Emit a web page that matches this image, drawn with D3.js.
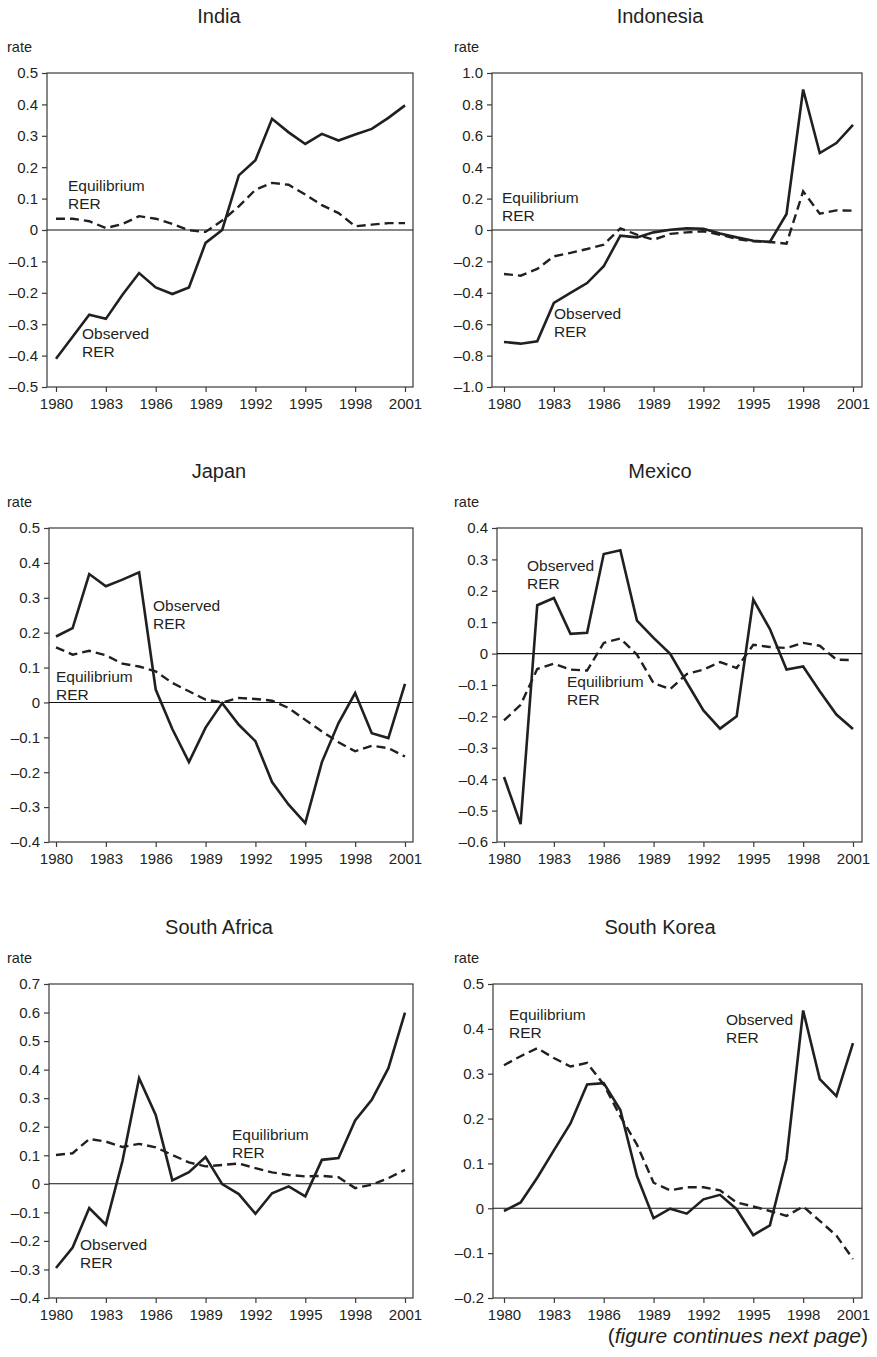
<!DOCTYPE html>
<html>
<head>
<meta charset="utf-8">
<script src="https://cdn.jsdelivr.net/npm/d3@7"></script>
<style>
body { margin: 0; background: #fff; }
text { font-family: "Liberation Sans", Arial, sans-serif; fill: #231f20; }
</style>
</head>
<body>
<svg id="chart" width="877" height="1357"></svg>
<script>
var width = 877;
var height = 1357;

// years on the x axis, and the ones that get a tick
var years = [1980, 1981, 1982, 1983, 1984, 1985, 1986, 1987, 1988, 1989, 1990,
             1991, 1992, 1993, 1994, 1995, 1996, 1997, 1998, 1999, 2000, 2001];
var xTickYears = [1980, 1983, 1986, 1989, 1992, 1995, 1998, 2001];

// observed RER (solid) and equilibrium RER (dashed)
var indiaObserved = [-0.41, -0.34, -0.27, -0.283, -0.206, -0.137, -0.183, -0.204, -0.183, -0.041, 0.0,
                     0.174, 0.222, 0.354, 0.311, 0.274, 0.306, 0.285, 0.304, 0.322, 0.357, 0.397];
var indiaEquilibrium = [0.036, 0.036, 0.028, 0.006, 0.019, 0.044, 0.036, 0.019, -0.001, -0.006, 0.03,
                        0.075, 0.128, 0.15, 0.144, 0.113, 0.079, 0.054, 0.012, 0.017, 0.022, 0.022];

var indonesiaObserved = [-0.713, -0.724, -0.709, -0.465, -0.401, -0.338, -0.231, -0.036, -0.047, -0.015, 0.002,
                         0.011, 0.008, -0.023, -0.047, -0.068, -0.076, 0.102, 0.895, 0.49, 0.554, 0.669];
var indonesiaEquilibrium = [-0.28, -0.291, -0.248, -0.168, -0.146, -0.121, -0.093, 0.01, -0.03, -0.062, -0.025,
                            -0.015, -0.008, -0.03, -0.057, -0.072, -0.076, -0.087, 0.246, 0.104, 0.125, 0.123];

var japanObserved = [0.189, 0.213, 0.368, 0.333, 0.352, 0.373, 0.037, -0.076, -0.171, -0.072, -0.002,
                     -0.064, -0.111, -0.228, -0.293, -0.346, -0.171, -0.059, 0.027, -0.088, -0.102, 0.053];
var japanEquilibrium = [0.158, 0.137, 0.148, 0.135, 0.111, 0.103, 0.089, 0.056, 0.032, 0.008, 0.0,
                        0.013, 0.01, 0.005, -0.016, -0.05, -0.083, -0.114, -0.14, -0.124, -0.131, -0.155];

var mexicoObserved = [-0.393, -0.543, 0.154, 0.177, 0.063, 0.066, 0.317, 0.329, 0.105, 0.05, -0.001,
                      -0.092, -0.181, -0.239, -0.2, 0.172, 0.078, -0.051, -0.041, -0.12, -0.194, -0.24];
var mexicoEquilibrium = [-0.213, -0.163, -0.049, -0.032, -0.051, -0.054, 0.034, 0.048, -0.003, -0.094, -0.113,
                         -0.065, -0.051, -0.027, -0.046, 0.028, 0.021, 0.018, 0.034, 0.025, -0.019, -0.021];

var southAfricaObserved = [-0.295, -0.223, -0.085, -0.143, 0.08, 0.37, 0.241, 0.012, 0.041, 0.094, -0.001,
                           -0.036, -0.105, -0.033, -0.009, -0.044, 0.084, 0.09, 0.222, 0.294, 0.405, 0.6];
var southAfricaEquilibrium = [0.101, 0.107, 0.157, 0.148, 0.129, 0.14, 0.128, 0.101, 0.075, 0.061, 0.066,
                              0.071, 0.055, 0.04, 0.031, 0.026, 0.028, 0.023, -0.015, -0.003, 0.02, 0.049];

var southKoreaObserved = [-0.006, 0.013, 0.068, 0.129, 0.189, 0.276, 0.279, 0.219, 0.072, -0.022, -0.001,
                          -0.012, 0.02, 0.03, -0.002, -0.06, -0.038, 0.11, 0.441, 0.288, 0.25, 0.368];
var southKoreaEquilibrium = [0.319, 0.339, 0.357, 0.335, 0.316, 0.324, 0.276, 0.205, 0.142, 0.057, 0.04,
                             0.047, 0.047, 0.04, 0.013, 0.004, -0.006, -0.017, 0.004, -0.028, -0.061, -0.113];

// y tick values per panel
var indiaTicks = [-0.5, -0.4, -0.3, -0.2, -0.1, 0, 0.1, 0.2, 0.3, 0.4, 0.5];
var indonesiaTicks = [-1.0, -0.8, -0.6, -0.4, -0.2, 0, 0.2, 0.4, 0.6, 0.8, 1.0];
var japanTicks = [-0.4, -0.3, -0.2, -0.1, 0, 0.1, 0.2, 0.3, 0.4, 0.5];
var mexicoTicks = [-0.6, -0.5, -0.4, -0.3, -0.2, -0.1, 0, 0.1, 0.2, 0.3, 0.4];
var southAfricaTicks = [-0.4, -0.3, -0.2, -0.1, 0, 0.1, 0.2, 0.3, 0.4, 0.5, 0.6, 0.7];
var southKoreaTicks = [-0.2, -0.1, 0, 0.1, 0.2, 0.3, 0.4, 0.5];

var countries = ["India", "Indonesia", "Japan", "Mexico", "South Africa", "South Korea"];

// layout of the 2 x 3 grid
var columns = [
  {right: 413, x0: 56, x1: 405, title: 219, rate: 7},
  {right: 862, x0: 504, x1: 853, title: 660, rate: 454}
];
var rowTops = [73, 528, 984];
var plotH = 314;

var panels = [
  {name: countries[0], obs: indiaObserved, eq: indiaEquilibrium, ticks: indiaTicks, col: 0, row: 0, left: 47,
   notes: [{t: ["Equilibrium", "RER"], x: 68, y: 191}, {t: ["Observed", "RER"], x: 82, y: 339}]},
  {name: countries[1], obs: indonesiaObserved, eq: indonesiaEquilibrium, ticks: indonesiaTicks, col: 1, row: 0, left: 492,
   notes: [{t: ["Equilibrium", "RER"], x: 502, y: 203}, {t: ["Observed", "RER"], x: 554, y: 319}]},
  {name: countries[2], obs: japanObserved, eq: japanEquilibrium, ticks: japanTicks, col: 0, row: 1, left: 49,
   notes: [{t: ["Observed", "RER"], x: 153, y: 611}, {t: ["Equilibrium", "RER"], x: 56, y: 682}]},
  {name: countries[3], obs: mexicoObserved, eq: mexicoEquilibrium, ticks: mexicoTicks, col: 1, row: 1, left: 497,
   notes: [{t: ["Observed", "RER"], x: 527, y: 571}, {t: ["Equilibrium", "RER"], x: 567, y: 687}]},
  {name: countries[4], obs: southAfricaObserved, eq: southAfricaEquilibrium, ticks: southAfricaTicks, col: 0, row: 2, left: 49,
   notes: [{t: ["Equilibrium", "RER"], x: 232, y: 1140}, {t: ["Observed", "RER"], x: 80, y: 1250}]},
  {name: countries[5], obs: southKoreaObserved, eq: southKoreaEquilibrium, ticks: southKoreaTicks, col: 1, row: 2, left: 493,
   notes: [{t: ["Equilibrium", "RER"], x: 509, y: 1020}, {t: ["Observed", "RER"], x: 726, y: 1025}]}
];

var svg = d3.select("#chart");

var fmt = function(d) {
  if (d === 0) return "0";
  return (d < 0 ? "\u2013" : "") + d3.format(".1f")(Math.abs(d));
};

panels.forEach(function(p) {
  var c = columns[p.col];
  var top = rowTops[p.row];
  var bottom = top + plotH;

  var x = d3.scaleLinear().domain([1980, 2001]).range([c.x0, c.x1]);
  var y = d3.scaleLinear().domain([p.ticks[0], p.ticks[p.ticks.length - 1]]).range([bottom, top]);

  var g = svg.append("g");

  // title and unit
  g.append("text")
    .attr("x", c.title).attr("y", top - 50)
    .attr("text-anchor", "middle")
    .style("font-size", "20px")
    .text(p.name);

  g.append("text")
    .attr("x", c.rate).attr("y", top - 21)
    .style("font-size", "14.5px")
    .text("rate");

  // frame
  g.append("rect")
    .attr("x", p.left).attr("y", top)
    .attr("width", c.right - p.left).attr("height", plotH)
    .attr("fill", "none")
    .attr("stroke", "#3a3a3a")
    .attr("stroke-width", 1.2);

  // zero line
  g.append("line")
    .attr("x1", p.left).attr("x2", c.right)
    .attr("y1", y(0)).attr("y2", y(0))
    .attr("stroke", "#111")
    .attr("stroke-width", 1.1);

  // axes
  var yAxis = g.append("g")
    .attr("transform", "translate(" + p.left + ",0)")
    .call(d3.axisLeft(y).tickValues(p.ticks).tickFormat(fmt).tickSize(5).tickPadding(4));

  var xAxis = g.append("g")
    .attr("transform", "translate(0," + bottom + ")")
    .call(d3.axisBottom(x).tickValues(xTickYears).tickFormat(d3.format("d")).tickSize(5).tickPadding(6));

  [yAxis, xAxis].forEach(function(a) {
    a.select(".domain").remove();
    a.selectAll("line").attr("stroke", "#3a3a3a").attr("stroke-width", 1.2);
    a.selectAll("text")
      .style("font-size", "15px")
      .style("font-family", "'Liberation Sans', Arial, sans-serif")
      .attr("fill", "#231f20");
  });

  var line = d3.line()
    .x(function(d, i) { return x(years[i]); })
    .y(function(d) { return y(d); });

  g.append("path")
    .datum(p.eq)
    .attr("d", line)
    .attr("fill", "none")
    .attr("stroke", "#231f20")
    .attr("stroke-width", 2.4)
    .attr("stroke-dasharray", "9,5");

  g.append("path")
    .datum(p.obs)
    .attr("d", line)
    .attr("fill", "none")
    .attr("stroke", "#231f20")
    .attr("stroke-width", 2.6)
    .attr("stroke-linejoin", "miter");

  // labels on the lines
  p.notes.forEach(function(n) {
    var t = g.append("text")
      .attr("x", n.x).attr("y", n.y)
      .style("font-size", "15.5px");
    n.t.forEach(function(s, i) {
      t.append("tspan").attr("x", n.x).attr("dy", i === 0 ? 0 : 18).text(s);
    });
  });
});

// footnote
var foot = svg.append("text")
  .attr("x", 868).attr("y", 1343)
  .attr("text-anchor", "end")
  .style("font-size", "21px");
foot.append("tspan").text("(");
foot.append("tspan").style("font-style", "italic").text("figure continues next page");
foot.append("tspan").text(")");
</script>
</body>
</html>
